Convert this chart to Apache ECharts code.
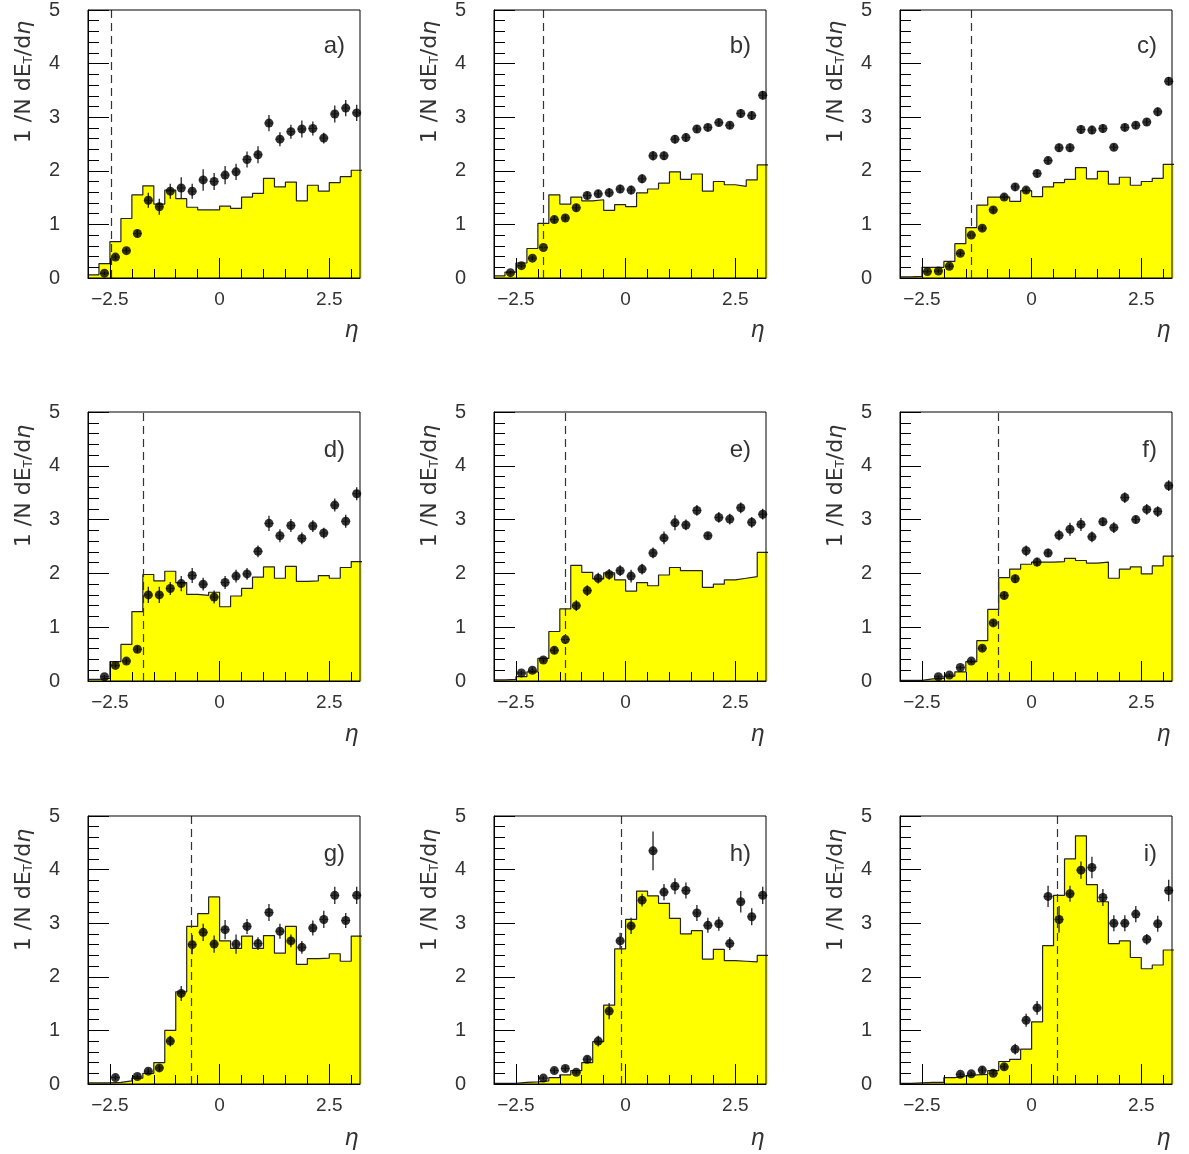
<!DOCTYPE html>
<html><head><meta charset="utf-8">
<script src="https://cdn.jsdelivr.net/npm/echarts@6/dist/echarts.min.js"></script>
<style>html,body{margin:0;padding:0;background:#fff}#chart{width:1189px;height:1154px}</style>
</head><body><div id="chart"></div>
<script>
// ---- data ----
const binEdges = [-3.0, -2.75, -2.5, -2.25, -2.0, -1.75, -1.5, -1.25, -1.0, -0.75, -0.5, -0.25, 0.0,
                  0.25, 0.5, 0.75, 1.0, 1.25, 1.5, 1.75, 2.0, 2.25, 2.5, 2.75, 3.0, 3.25];
const binCenters = [-2.875, -2.625, -2.375, -2.125, -1.875, -1.625, -1.375, -1.125, -0.875, -0.625, -0.375, -0.125,
                    0.125, 0.375, 0.625, 0.875, 1.125, 1.375, 1.625, 1.875, 2.125, 2.375, 2.625, 2.875, 3.125];
const panelLabels = ['a)', 'b)', 'c)', 'd)', 'e)', 'f)', 'g)', 'h)', 'i)'];
const cutEta = [-2.48, -1.87, -1.37, -1.74, -1.38, -0.76, -0.64, -0.09, 0.58];
const xMajorTicks = [-2.5, 0, 2.5];
const xMinorTicks = [-2.0, -1.5, -1.0, -0.5, 0.5, 1.0, 1.5, 2.0, 3.0];

const histA = [0.06, 0.27, 0.68, 1.11, 1.55, 1.72, 1.38, 1.64, 1.48, 1.32, 1.27, 1.27, 1.34, 1.30, 1.51, 1.58, 1.86, 1.70, 1.79, 1.44, 1.73, 1.62, 1.78, 1.89, 2.01];
const ptsA  = [null, 0.09, 0.39, 0.51, 0.83, 1.45, 1.33, 1.62, 1.68, 1.62, 1.83, 1.80, 1.92, 1.98, 2.21, 2.30, 2.89, 2.59, 2.73, 2.78, 2.79, 2.61, 3.06, 3.17, 3.08];
const errA  = [null, 0.03, 0.05, 0.05, 0.07, 0.14, 0.15, 0.14, 0.20, 0.14, 0.20, 0.16, 0.17, 0.15, 0.15, 0.16, 0.15, 0.13, 0.13, 0.16, 0.13, 0.10, 0.16, 0.15, 0.15];

const histB = [0.04, 0.11, 0.28, 0.55, 1.02, 1.55, 1.38, 1.51, 1.44, 1.46, 1.26, 1.37, 1.33, 1.59, 1.66, 1.77, 1.98, 1.84, 1.94, 1.62, 1.80, 1.74, 1.71, 1.83, 2.11];
const ptsB  = [null, 0.10, 0.23, 0.37, 0.57, 1.09, 1.12, 1.31, 1.54, 1.57, 1.59, 1.66, 1.64, 1.85, 2.28, 2.28, 2.59, 2.62, 2.78, 2.81, 2.90, 2.85, 3.07, 3.03, 3.41];
const errB  = [null, 0.03, 0.04, 0.04, 0.05, 0.06, 0.06, 0.07, 0.07, 0.07, 0.09, 0.08, 0.08, 0.08, 0.09, 0.08, 0.08, 0.08, 0.07, 0.07, 0.07, 0.07, 0.08, 0.08, 0.08];

const histC = [0.02, 0.03, 0.20, 0.20, 0.31, 0.64, 0.94, 1.36, 1.51, 1.51, 1.43, 1.63, 1.52, 1.70, 1.78, 1.84, 2.06, 1.85, 1.99, 1.75, 1.88, 1.73, 1.80, 1.86, 2.12];
const ptsC  = [null, null, 0.12, 0.13, 0.22, 0.46, 0.80, 0.93, 1.27, 1.51, 1.70, 1.64, 1.95, 2.19, 2.43, 2.43, 2.77, 2.76, 2.79, 2.44, 2.81, 2.85, 2.91, 3.10, 3.67];
const errC  = [null, null, 0.03, 0.03, 0.04, 0.05, 0.05, 0.05, 0.06, 0.06, 0.07, 0.06, 0.07, 0.07, 0.08, 0.08, 0.08, 0.08, 0.08, 0.06, 0.07, 0.07, 0.07, 0.08, 0.08];

const histD = [0.03, 0.05, 0.36, 0.68, 1.29, 1.98, 1.86, 2.04, 1.83, 1.61, 1.59, 1.65, 1.38, 1.58, 1.72, 1.93, 2.12, 1.91, 2.13, 1.85, 1.86, 1.96, 1.91, 2.11, 2.22];
const ptsD  = [null, 0.08, 0.29, 0.37, 0.59, 1.60, 1.60, 1.72, 1.81, 1.96, 1.80, 1.56, 1.83, 1.95, 1.99, 2.41, 2.93, 2.70, 2.89, 2.65, 2.88, 2.75, 3.27, 2.97, 3.48];
const errD  = [null, 0.03, 0.04, 0.05, 0.06, 0.15, 0.15, 0.12, 0.14, 0.14, 0.12, 0.12, 0.12, 0.12, 0.11, 0.11, 0.14, 0.12, 0.12, 0.11, 0.11, 0.10, 0.12, 0.12, 0.12];

const histE = [0.02, 0.03, 0.08, 0.17, 0.42, 0.92, 1.34, 2.15, 2.02, 1.90, 2.01, 1.88, 1.67, 1.83, 1.77, 1.97, 2.11, 2.05, 2.05, 1.74, 1.80, 1.88, 1.91, 1.94, 2.39];
const ptsE  = [null, null, 0.15, 0.20, 0.39, 0.57, 0.77, 1.40, 1.68, 1.91, 1.98, 2.05, 1.95, 2.08, 2.38, 2.66, 2.94, 2.90, 3.17, 2.70, 3.04, 3.01, 3.22, 2.95, 3.10];
const errE  = [null, null, 0.04, 0.05, 0.05, 0.06, 0.08, 0.10, 0.10, 0.10, 0.10, 0.10, 0.12, 0.10, 0.10, 0.12, 0.14, 0.10, 0.10, 0.06, 0.10, 0.10, 0.10, 0.10, 0.10];

const histF = [0.01, 0.01, 0.04, 0.05, 0.09, 0.17, 0.36, 0.75, 1.33, 1.92, 2.08, 2.17, 2.21, 2.21, 2.22, 2.28, 2.24, 2.19, 2.21, 1.91, 2.08, 2.12, 1.99, 2.14, 2.32];
const ptsF  = [null, null, null, 0.08, 0.11, 0.25, 0.37, 0.61, 1.08, 1.59, 1.90, 2.42, 2.21, 2.38, 2.71, 2.82, 2.91, 2.68, 2.96, 2.85, 3.41, 3.00, 3.19, 3.15, 3.63];
const errF  = [null, null, null, 0.03, 0.03, 0.04, 0.04, 0.05, 0.06, 0.07, 0.08, 0.10, 0.08, 0.08, 0.10, 0.12, 0.12, 0.10, 0.08, 0.10, 0.10, 0.07, 0.10, 0.10, 0.10];

const histG = [0.02, 0.02, 0.03, 0.06, 0.11, 0.20, 0.40, 1.00, 1.72, 2.94, 3.18, 3.49, 2.67, 2.53, 2.76, 2.53, 2.77, 2.44, 2.94, 2.23, 2.34, 2.35, 2.43, 2.29, 2.76];
const ptsG  = [null, null, 0.12, null, 0.14, 0.24, 0.30, 0.80, 1.69, 2.60, 2.83, 2.61, 2.88, 2.61, 2.94, 2.62, 3.20, 2.85, 2.67, 2.55, 2.91, 3.07, 3.52, 3.05, 3.52];
const errG  = [null, null, 0.04, null, 0.04, 0.05, 0.06, 0.10, 0.14, 0.18, 0.16, 0.16, 0.18, 0.18, 0.14, 0.12, 0.16, 0.14, 0.12, 0.12, 0.14, 0.16, 0.16, 0.14, 0.16];

const histH = [0.01, 0.01, 0.03, 0.04, 0.06, 0.12, 0.17, 0.25, 0.40, 0.79, 1.47, 2.52, 3.07, 3.60, 3.51, 3.37, 3.09, 2.80, 2.86, 2.33, 2.51, 2.30, 2.29, 2.28, 2.40];
const ptsH  = [null, null, null, null, 0.11, 0.25, 0.29, 0.22, 0.46, 0.80, 1.36, 2.67, 2.95, 3.43, 4.35, 3.58, 3.69, 3.61, 3.19, 2.96, 2.99, 2.62, 3.40, 3.12, 3.52];
const errH  = [null, null, null, null, 0.03, 0.05, 0.05, 0.04, 0.06, 0.10, 0.15, 0.15, 0.15, 0.12, 0.36, 0.15, 0.15, 0.15, 0.15, 0.14, 0.13, 0.12, 0.20, 0.16, 0.16];

const histI = [0.01, 0.02, 0.03, 0.03, 0.12, 0.15, 0.17, 0.18, 0.25, 0.42, 0.46, 0.65, 1.16, 2.58, 3.52, 4.20, 4.63, 3.72, 3.40, 2.62, 2.67, 2.36, 2.15, 2.22, 2.50];
const ptsI  = [null, null, null, null, null, 0.18, 0.19, 0.26, 0.20, 0.32, 0.65, 1.19, 1.42, 3.50, 3.07, 3.55, 3.99, 4.04, 3.48, 3.00, 3.00, 3.17, 2.70, 2.99, 3.61];
const errI  = [null, null, null, null, null, 0.04, 0.04, 0.06, 0.05, 0.06, 0.10, 0.12, 0.13, 0.20, 0.25, 0.15, 0.16, 0.20, 0.16, 0.15, 0.15, 0.15, 0.10, 0.15, 0.20];

const hists = [histA, histB, histC, histD, histE, histF, histG, histH, histI];
const points = [ptsA, ptsB, ptsC, ptsD, ptsE, ptsF, ptsG, ptsH, ptsI];
const errors = [errA, errB, errC, errD, errE, errF, errG, errH, errI];

// ---- layout ----
const colLeft = [88, 494, 900];
const rowTop = [8, 412, 816];
const rowHeight = [270, 269, 268];
const plotWidth = 272;
const FONT = "'Liberation Sans', 'DejaVu Sans', sans-serif";
const TFONT = "'DejaVu Sans', sans-serif";
const TXT = '#333';
const xHalfWidth = 0.1;

const grids = [], xAxes = [], yAxes = [], series = [], graphics = [];

const fmtX = v => (v < 0 ? '\u2212' + Math.abs(v) : String(v));

for (let i = 0; i < 9; i++) {
  const c = i % 3, r = Math.floor(i / 3);
  grids.push({
    left: colLeft[c], top: rowTop[r], width: plotWidth, height: rowHeight[r],
    show: true, borderColor: '#000', borderWidth: 1, backgroundColor: 'transparent', z: 10
  });
  xAxes.push({
    type: 'value', gridIndex: i, min: -3, max: 3.2, position: 'bottom', z: 10,
    axisLine: { show: true, onZero: false, lineStyle: { color: '#000', width: 1 } },
    axisTick: { show: true, inside: true, length: 20, customValues: xMajorTicks, lineStyle: { color: '#000', width: 1 } },
    axisLabel: { show: true, customValues: xMajorTicks, formatter: fmtX, fontSize: 19, color: TXT, margin: 12, fontFamily: FONT },
    splitLine: { show: false }
  });
  xAxes.push({
    type: 'value', gridIndex: i, min: -3, max: 3.2, position: 'bottom', z: 10,
    axisLine: { show: false, onZero: false },
    axisTick: { show: true, inside: true, length: 9, customValues: xMinorTicks, lineStyle: { color: '#000', width: 1 } },
    axisLabel: { show: false },
    splitLine: { show: false }
  });
  yAxes.push({
    type: 'value', gridIndex: i, min: 0, max: 5, interval: 1, z: 10,
    axisLine: { show: true, onZero: false, lineStyle: { color: '#000', width: 1 } },
    axisTick: { show: true, inside: true, length: 21, lineStyle: { color: '#000', width: 1 } },
    minorTick: { show: true, splitNumber: 5, length: 11, lineStyle: { color: '#000', width: 1 } },
    axisLabel: { fontSize: 20, color: TXT, margin: 28, fontFamily: FONT },
    splitLine: { show: false }, minorSplitLine: { show: false }
  });

  const hist = hists[i];
  const histData = binEdges.map((e, k) => [e, hist[Math.min(k, hist.length - 1)]]);
  series.push({
    type: 'line', xAxisIndex: 2 * i, yAxisIndex: i, data: histData, step: 'end',
    symbol: 'none', z: 2,
    lineStyle: { color: '#222', width: 1.2 },
    areaStyle: { color: '#ffff00', opacity: 1 },
    markLine: {
      silent: true, symbol: ['none', 'none'], label: { show: false },
      lineStyle: { type: [8, 5], color: '#333', width: 1.2 },
      data: [{ xAxis: cutEta[i] }]
    }
  });

  const ptData = [];
  points[i].forEach((v, k) => { if (v !== null) ptData.push([binCenters[k], v, errors[i][k]]); });
  series.push({
    type: 'custom', xAxisIndex: 2 * i, yAxisIndex: i, data: ptData, z: 3,
    renderItem: (params, api) => {
      const x = api.value(0), y = api.value(1), e = api.value(2);
      const top = api.coord([x, y + e]), bot = api.coord([x, y - e]);
      const l = api.coord([x - xHalfWidth, y]), rr = api.coord([x + xHalfWidth, y]);
      return {
        type: 'group', children: [
          { type: 'line', shape: { x1: top[0], y1: top[1], x2: bot[0], y2: bot[1] }, style: { stroke: '#222', lineWidth: 1.3 } },
          { type: 'line', shape: { x1: l[0], y1: l[1], x2: rr[0], y2: rr[1] }, style: { stroke: '#666', lineWidth: 1 } }
        ]
      };
    }
  });
  series.push({
    type: 'scatter', xAxisIndex: 2 * i, yAxisIndex: i, data: ptData.map(d => [d[0], d[1]]),
    symbol: 'circle', symbolSize: 9, itemStyle: { color: '#000' }, z: 4
  });

  const left = colLeft[c], top = rowTop[r];
  graphics.push({
    type: 'text', x: left - 64, y: top + 74, rotation: Math.PI / 2,
    style: {
      text: '1 /N dE{s|T}/d{e|\u03b7}', fill: TXT,
      fontSize: 22, fontFamily: TFONT,
      align: 'center', verticalAlign: 'middle',
      rich: {
        s: { fontSize: 12, fontFamily: TFONT, fill: TXT, verticalAlign: 'bottom', padding: [9, 0, 0, 0] },
        e: { fontSize: 22, fontFamily: TFONT, fill: TXT, fontStyle: 'italic' }
      }
    }
  });
  graphics.push({
    type: 'text', x: left + 257, y: top + 38,
    style: { text: panelLabels[i], fill: TXT, fontSize: 24, fontFamily: FONT, align: 'right', verticalAlign: 'middle' }
  });
  graphics.push({
    type: 'text', x: left + 264, y: top + 322,
    style: { text: '\u03b7', fill: TXT, fontSize: 24, fontStyle: 'italic', fontFamily: FONT, align: 'center', verticalAlign: 'middle' }
  });
}

const chart = echarts.init(document.getElementById('chart'), null, { renderer: 'canvas' });
chart.setOption({
  animation: false,
  backgroundColor: '#fff',
  grid: grids, xAxis: xAxes, yAxis: yAxes, series: series, graphic: graphics
});
</script></body></html>
